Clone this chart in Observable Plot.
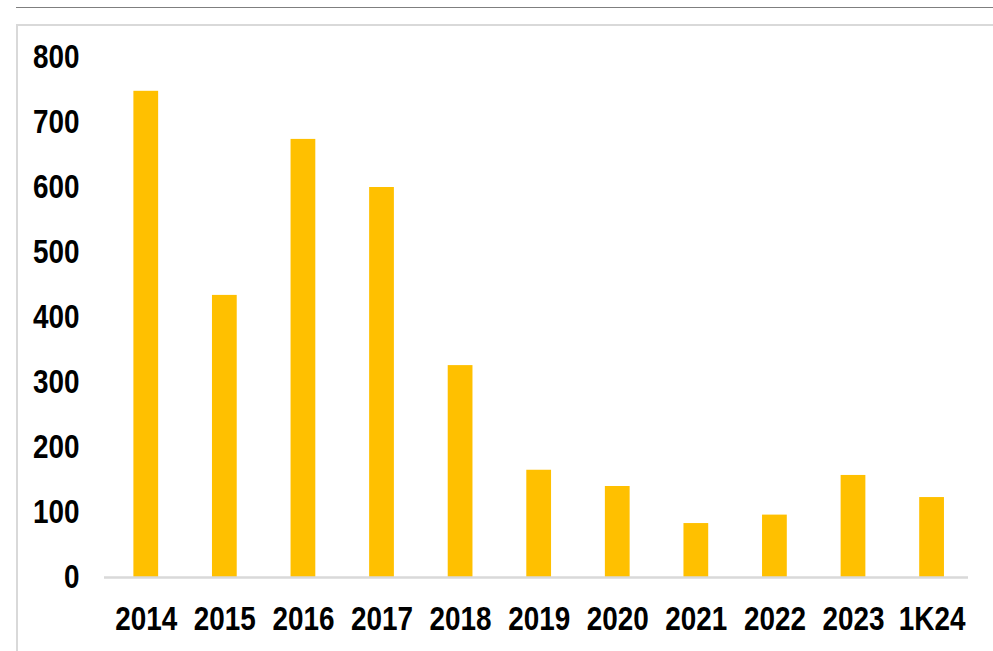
<!DOCTYPE html>
<html>
<head>
<meta charset="utf-8">
<script src="https://cdn.jsdelivr.net/npm/d3@7"></script>
<script src="https://cdn.jsdelivr.net/npm/@observablehq/plot@0.6"></script>
<style>
  html, body { margin: 0; padding: 0; background: #fff; overflow: hidden; }
  #wrap { position: relative; width: 993px; height: 651px; }
  #topline { position: absolute; left: 16px; top: 7px; width: 977px; height: 0; border-top: 1.5px solid #7f7f7f; }
  #frame { position: absolute; left: 16px; top: 24px; width: 1000px; height: 700px; border: 2px solid #d9d9d9; box-sizing: border-box; }
  #chart { position: absolute; left: 0; top: 0; }
</style>
</head>
<body>
<div id="wrap">
  <div id="topline"></div>
  <div id="frame"></div>
  <div id="chart"></div>
</div>
<script>
const categories = ["2014", "2015", "2016", "2017", "2018", "2019", "2020", "2021", "2022", "2023", "1K24"];
const values = [748, 434, 674, 600, 326, 165, 140, 83, 96, 157, 123];
const yTicks = [0, 100, 200, 300, 400, 500, 600, 700, 800];

const data = categories.map((c, i) => ({category: c, value: values[i]}));

const font = "'Liberation Sans Narrow', 'Arial Narrow', 'Liberation Sans', Arial, sans-serif";

const chart = Plot.plot({
  width: 993,
  height: 651,
  marginLeft: 104,
  marginRight: 25,
  marginTop: 57,
  marginBottom: 74,
  style: {fontFamily: font, fontSize: "34px", fontWeight: "bold", color: "#000", background: "transparent", overflow: "visible"},
  x: {domain: categories, paddingInner: 0.685, paddingOuter: 0.34, align: 0.55, round: false},
  y: {domain: [0, 800]},
  marks: [
    Plot.barY(data, {x: "category", y: "value", fill: "#FFC000"}),
    Plot.ruleY([0], {stroke: "#d9d9d9", strokeWidth: 2.5}),
    Plot.axisY({ticks: yTicks, tickSize: 0, tickPadding: 25, label: null, fontSize: 34, fontWeight: "bold", fill: "#000"}),
    Plot.axisX({tickSize: 0, tickPadding: 28, label: null, fontSize: 34, fontWeight: "bold", fill: "#000"})
  ]
});
document.getElementById("chart").appendChild(chart);

// Condense the bold labels horizontally to match the narrow typeface of the original
chart.querySelectorAll('g[aria-label="y-axis tick label"] text, g[aria-label="x-axis tick label"] text').forEach(t => {
  const tr = t.getAttribute("transform") || "";
  t.setAttribute("transform", tr + " scale(0.82,1)");
});
</script>
</body>
</html>
